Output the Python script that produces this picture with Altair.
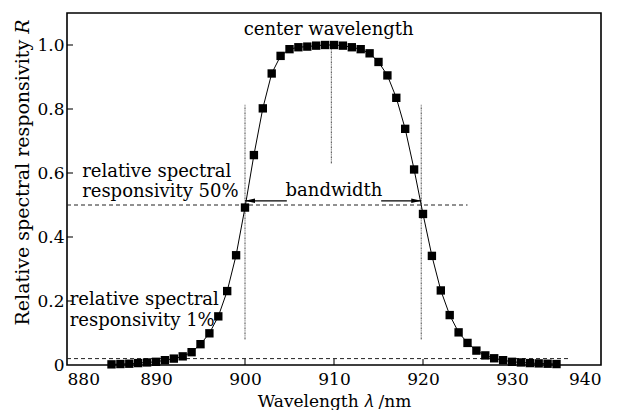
import altair as alt
import pandas as pd

# ---- data ----
wavelength = [885, 886, 887, 888, 889, 890, 891, 892, 893, 894,
              895, 896, 897, 898, 899, 900, 901, 902, 903, 904,
              905, 906, 907, 908, 909, 910, 911, 912, 913, 914,
              915, 916, 917, 918, 919, 920, 921, 922, 923, 924,
              925, 926, 927, 928, 929, 930, 931, 932, 933, 934, 935]
responsivity = [0.002, 0.003, 0.004, 0.006, 0.008, 0.010, 0.015, 0.020, 0.027, 0.040,
                0.065, 0.099, 0.152, 0.231, 0.343, 0.492, 0.656, 0.802, 0.911, 0.966,
                0.987, 0.993, 0.995, 0.998, 1.000, 1.000, 0.998, 0.993, 0.987, 0.974,
                0.947, 0.905, 0.835, 0.738, 0.611, 0.472, 0.341, 0.233, 0.156, 0.102,
                0.069, 0.045, 0.030, 0.021, 0.015, 0.010, 0.008, 0.006, 0.005, 0.004, 0.003]

x_ticks = [880, 890, 900, 910, 920, 930, 940]
y_ticks = [0, 0.2, 0.4, 0.6, 0.8, 1.0]
x_inner_ticks = [890, 900, 910, 920, 930]
y_inner_ticks = [0.2, 0.4, 0.6, 0.8, 1.0]

# dashed horizontal reference lines (50 % and 1 %)
h_y = [0.5, 0.02]
h_x1 = [880, 880]
h_x2 = [925, 936.3]

# dotted vertical lines (band edges and center wavelength)
v_x = [900, 919.8, 909.7]
v_y1 = [0.08, 0.08, 0.63]
v_y2 = [0.815, 0.815, 0.995]

# bandwidth arrows
arrow_from = [904.7, 915.3]
arrow_to = [900, 919.8]
arrow_y = [0.513, 0.513]
arrow_dir = ["left", "right"]

# annotation text
ann_text = ["center wavelength", "bandwidth",
            "relative spectral", "responsivity 50%",
            "relative spectral", "responsivity 1%"]
ann_x = [909.4, 910.0, 881.7, 881.7, 880.3, 880.3]
ann_y = [1.03, 0.529, 0.5875, 0.525, 0.1875, 0.123]
ann_align = ["center", "center", "left", "left", "left", "left"]

FONT = "DejaVu Serif"

df = pd.DataFrame({"wl": wavelength, "r": responsivity})
hdf = pd.DataFrame({"y": h_y, "x1": h_x1, "x2": h_x2})
vdf = pd.DataFrame({"x": v_x, "y1": v_y1, "y2": v_y2})
adf = pd.DataFrame({"x1": arrow_from, "x2": arrow_to, "y": arrow_y, "dir": arrow_dir})
tdf = pd.DataFrame({"t": ann_text, "x": ann_x, "y": ann_y, "al": ann_align})
xtdf = pd.DataFrame({"x": x_inner_ticks})
ytdf = pd.DataFrame({"y": y_inner_ticks})

xscale = alt.Scale(domain=[880, 940], nice=False, zero=False)
yscale = alt.Scale(domain=[0, 1.1], nice=False, zero=False)

xaxis = alt.Axis(values=x_ticks, title="Wavelength 𝜆 /nm", grid=False, domain=False,
                 ticks=False, labelFont=FONT, labelFontSize=17, labelColor="black",
                 labelPadding=6, titleFont=FONT, titleFontSize=17, titleFontWeight="normal",
                 titleColor="black", titleBaseline="alphabetic", titleY=41)
yaxis = alt.Axis(values=y_ticks, title="Relative spectral responsivity 𝑅", grid=False,
                 domain=False, ticks=False, labelFont=FONT, labelFontSize=17,
                 labelColor="black", labelPadding=3,
                 labelExpr="datum.value == 0 ? '0' : format(datum.value, '.1f')",
                 titleFont=FONT, titleFontSize=19, titleFontWeight="normal",
                 titleColor="black", titleAngle=270, titleBaseline="middle",
                 titleAlign="center", titleX=-45, titleY=159)

X = lambda f: alt.X(f, type="quantitative", scale=xscale, axis=xaxis)
Y = lambda f: alt.Y(f, type="quantitative", scale=yscale, axis=yaxis)

hlines = alt.Chart(hdf).mark_rule(color="#222", strokeWidth=1, strokeDash=[4, 3]).encode(
    x=X("x1"), x2="x2", y=Y("y"))
vlines = alt.Chart(vdf).mark_rule(color="#444", strokeWidth=1, strokeDash=[2, 1, 1, 1]).encode(
    x=X("x"), y=Y("y1"), y2="y2")
arrows = alt.Chart(adf).mark_rule(color="black", strokeWidth=1.2).encode(
    x=X("x1"), x2="x2", y=Y("y"))
heads_l = alt.Chart(adf[adf["dir"] == "left"]).mark_point(
    shape="M0,0L2,-0.45L2,0.45Z", filled=True, color="black", size=100, opacity=1).encode(
    x=X("x2"), y=Y("y"))
heads_r = alt.Chart(adf[adf["dir"] == "right"]).mark_point(
    shape="M0,0L-2,-0.45L-2,0.45Z", filled=True, color="black", size=100, opacity=1).encode(
    x=X("x2"), y=Y("y"))
curve = alt.Chart(df).mark_line(color="black", strokeWidth=1).encode(x=X("wl"), y=Y("r"))
points = alt.Chart(df).mark_point(shape="square", filled=True, color="black", size=70,
                                   opacity=1).encode(x=X("wl"), y=Y("r"))
xt = alt.Chart(xtdf).mark_tick(orient="vertical", size=6, thickness=1.5, yOffset=-3,
                               color="black").encode(x=X("x"), y=alt.YDatum(0, scale=yscale))
yt = alt.Chart(ytdf).mark_tick(orient="horizontal", size=6, thickness=1.5, xOffset=3,
                               color="black").encode(y=Y("y"), x=alt.XDatum(880, scale=xscale))

texts = []
for al in ["center", "left"]:
    texts.append(alt.Chart(tdf[tdf["al"] == al]).mark_text(
        font=FONT, fontSize=18, color="black", align=al, baseline="alphabetic").encode(
        x=X("x"), y=Y("y"), text="t"))

chart = alt.layer(hlines, vlines, arrows, heads_l, heads_r, curve, points, xt, yt, *texts).properties(
    width=534, height=352,
    padding={"left": 67, "top": 13, "right": 19, "bottom": 45},
    autosize=alt.AutoSizeParams(type="none"),
    background="white",
).configure_view(stroke="black", strokeWidth=1.6)

chart.save("out.html", embed_options={"renderer": "svg", "actions": False})
